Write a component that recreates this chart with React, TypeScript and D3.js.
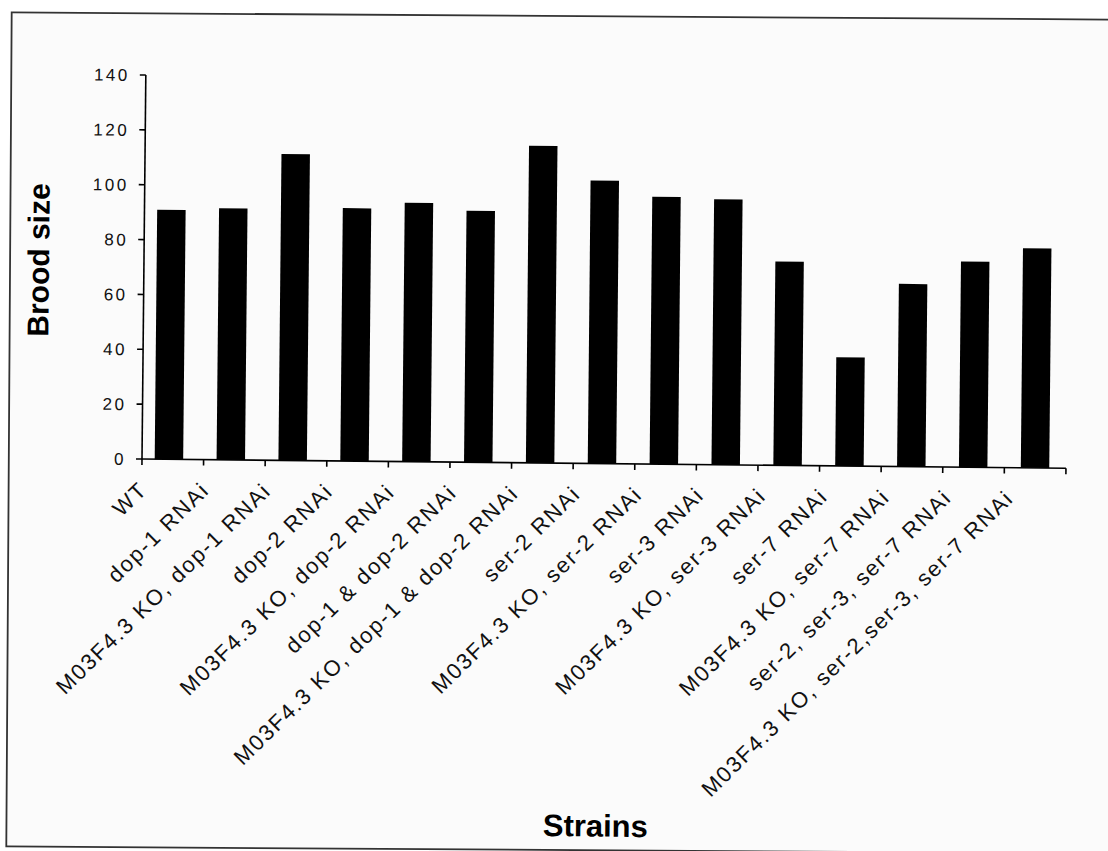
import React from "react";
import * as d3 from "d3";

const categories: string[] = [
  "WT",
  "dop-1 RNAi",
  "M03F4.3 KO, dop-1 RNAi",
  "dop-2 RNAi",
  "M03F4.3 KO, dop-2 RNAi",
  "dop-1 & dop-2 RNAi",
  "M03F4.3 KO, dop-1 & dop-2 RNAi",
  "ser-2 RNAi",
  "M03F4.3 KO, ser-2 RNAi",
  "ser-3 RNAi",
  "M03F4.3 KO, ser-3 RNAi",
  "ser-7 RNAi",
  "M03F4.3 KO, ser-7 RNAi",
  "ser-2, ser-3, ser-7 RNAi",
  "M03F4.3 KO, ser-2,ser-3, ser-7 RNAi",
];

const broodSize: number[] = [
  90.9, 91.7, 111.7, 92.2, 94.4, 91.7, 115.6, 103.2, 97.5, 96.8, 74.3, 39.6, 66.6, 75, 80,
];

const yTicks: number[] = [0, 20, 40, 60, 80, 100, 120, 140];

const xTitle = "Strains";
const yTitle = "Brood size";

const W = 1108;
const H = 851;
const X0 = 142;
const X1 = 1066;
const Y0 = 459;
const YTOP = 75;
const FONT = "'Liberation Sans', Arial, Helvetica, sans-serif";

export default function App() {
  const x = d3
    .scaleBand<string>()
    .domain(categories)
    .range([X0 - 4, X1])
    .paddingInner(0.54)
    .paddingOuter(0.27);
  const y = d3.scaleLinear().domain([0, 140]).range([Y0, YTOP]);
  const step = (X1 - X0) / categories.length;
  const boundaries = d3.range(categories.length + 1).map((i) => X0 + i * step);

  return (
    <svg
      width={W}
      height={H}
      style={{ position: "absolute", left: 0, top: 0, background: "#ffffff" }}
      fontFamily={FONT}
    >
      <g transform="rotate(0.37, 559, 430)">
        <rect x={9} y={16} width={1125} height={834} fill="#fbfbfb" stroke="#333" strokeWidth={1.8} />
      </g>
      <g transform={`rotate(0.57, ${X0}, ${Y0})`}>
        {/* bars */}
        {categories.map((c, i) => (
          <rect
            key={c}
            x={x(c)!}
            y={y(broodSize[i])}
            width={x.bandwidth()}
            height={Y0 - y(broodSize[i])}
            fill="#000"
          />
        ))}
        {/* y axis */}
        <line x1={X0} x2={X0} y1={YTOP} y2={Y0} stroke="#000" strokeWidth={1.6} />
        {yTicks.map((t) => (
          <g key={t}>
            <line x1={X0 - 6} x2={X0} y1={y(t)} y2={y(t)} stroke="#000" strokeWidth={1.6} />
            <text
              x={126}
              y={y(t)}
              dy="0.36em"
              textAnchor="end"
              fontSize={17}
              letterSpacing={2.5}
              fill="#111"
            >
              {t}
            </text>
          </g>
        ))}
        {/* x axis */}
        <line x1={X0} x2={X1} y1={Y0} y2={Y0} stroke="#000" strokeWidth={1.6} />
        {boundaries.map((b, i) => (
          <line key={i} x1={b} x2={b} y1={Y0} y2={Y0 + 6} stroke="#000" strokeWidth={1.6} />
        ))}
        {categories.map((c) => {
          const cx = x(c)! + x.bandwidth() / 2 - 20;
          const cy = Y0 + 32;
          return (
            <text
              key={c}
              x={cx}
              y={cy}
              textAnchor="end"
              fontSize={22}
              letterSpacing={1.8}
              fill="#111"
              transform={`rotate(-45, ${cx}, ${cy})`}
            >
              {c}
            </text>
          );
        })}
        {/* titles */}
        <text
          x={0}
          y={0}
          transform="translate(47, 261) rotate(-90)"
          textAnchor="middle"
          fontSize={30}
          fontWeight="bold"
          fill="#000"
        >
          {yTitle}
        </text>
        <text x={599} y={832} textAnchor="middle" fontSize={31} fontWeight="bold" fill="#000">
          {xTitle}
        </text>
      </g>
    </svg>
  );
}
